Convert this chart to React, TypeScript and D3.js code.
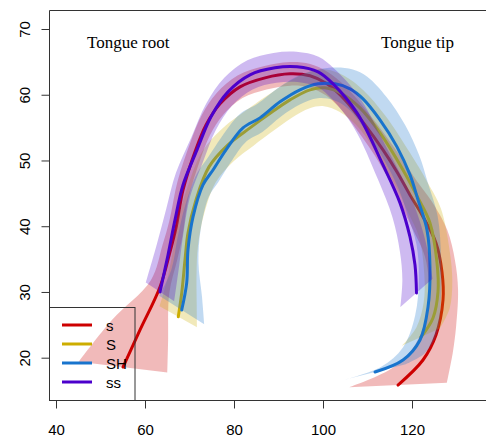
import React, { useRef, useEffect } from 'react';
import * as d3 from 'd3';

// tongue contours: [x, y, ci half-width along the radial direction]
const sCurve: number[][] = [
  [55.06, 18.58, 10], [58.88, 24.22, 6.5], [63.37, 30.76, 2.3], [65.62, 36.09, 2.0],
  [66.97, 39.74, 1.9], [68.54, 45.53, 1.8], [71.24, 51.31, 1.8], [73.71, 55.42, 1.8],
  [76.85, 58.61, 1.8], [81.35, 61.2, 1.8], [86.97, 62.57, 1.8], [92.58, 63.18, 1.8],
  [97.08, 62.88, 1.8], [100.9, 61.66, 1.8], [104.94, 59.22, 1.9], [109.44, 55.42, 2.0],
  [113.48, 51.61, 2.1], [116.63, 48.26, 2.3], [119.55, 44.76, 2.6], [122.25, 41.72, 3.0],
  [125.39, 37.46, 3.2], [126.74, 33.04, 3.4], [126.97, 28.78, 3.7], [125.39, 23.45, 4.7],
  [122.47, 19.65, 6.8], [116.85, 15.84, 11],
];
const SCurve: number[][] = [
  [67.48, 26.24, 4.5], [68.25, 29.85, 3.8], [68.99, 34.87, 3.2], [69.66, 38.98, 3.0],
  [71.46, 44.0, 2.8], [74.38, 49.03, 2.8], [78.65, 52.38, 2.8], [83.6, 54.96, 2.8],
  [87.64, 56.94, 2.8], [92.58, 59.22, 2.8], [97.08, 60.75, 2.8], [100.45, 61.05, 2.8],
  [104.27, 60.14, 2.8], [108.31, 58.0, 2.8], [112.81, 54.2, 2.9], [117.98, 48.57, 3.0],
  [121.35, 44.31, 3.2], [124.04, 40.5, 3.3], [125.62, 34.41, 3.4], [125.84, 30.0, 3.6],
  [124.72, 26.04, 4.0], [122.02, 23.15, 4.5],
];
const SHCurve: number[][] = [
  [68.25, 27.26, 5.5], [69.37, 31.37, 4.0], [69.66, 36.39, 3.0], [70.79, 41.42, 2.5],
  [73.03, 46.29, 2.2], [75.28, 48.55, 2.2], [78.2, 51.61, 2.2], [82.02, 54.96, 2.2],
  [85.84, 56.48, 2.2], [90.34, 58.92, 2.2], [94.83, 60.75, 2.2], [98.88, 61.66, 2.2],
  [102.7, 61.66, 2.5], [106.07, 60.9, 3.0], [108.99, 59.38, 3.5], [112.81, 56.18, 3.8],
  [116.63, 52.07, 3.8], [119.55, 47.81, 3.6], [121.35, 44.0, 3.4], [123.37, 39.44, 3.2],
  [124.04, 33.8, 3.0], [123.6, 27.72, 3.2], [121.8, 22.7, 4.0], [117.98, 19.65, 5.0],
  [111.69, 17.82, 7.0],
];
const ssCurve: number[][] = [
  [63.37, 30.0, 3.5], [65.17, 35.63, 3.0], [66.74, 40.96, 2.6], [68.54, 46.29, 2.4],
  [71.69, 51.61, 2.3], [74.83, 56.64, 2.3], [78.65, 60.44, 2.3], [83.6, 63.03, 2.3],
  [89.21, 64.09, 2.3], [94.16, 64.24, 2.3], [98.88, 63.48, 2.3], [102.25, 61.66, 2.3],
  [107.64, 57.24, 2.4], [113.48, 49.33, 2.5], [117.3, 43.55, 2.8], [119.55, 38.37, 3.2],
  [120.67, 34.11, 3.6], [121.01, 29.85, 4.2],
];

const seriesNames = ['s', 'S', 'SH', 'ss'];
const seriesColors = ['#CD0000', '#CDAD00', '#1874CD', '#4B00CC'];
const seriesData = [sCurve, SCurve, SHCurve, ssCurve];

const xTicks = [40, 60, 80, 100, 120];
const yTicks = [20, 30, 40, 50, 60, 70];

// polar origin used for the confidence bands
const origin = [96.4, 15.2];

const App = () => {
  const svgRef = useRef<SVGSVGElement>(null);

  useEffect(() => {
    document.body.style.margin = '0';
    const svg = d3.select(svgRef.current);
    svg.selectAll('*').remove();

    const x = d3.scaleLinear().domain([40, 120]).range([56, 412]);
    const y = d3.scaleLinear().domain([20, 70]).range([357.7, 29]);

    const left = 49.5;
    const top = 10.5;
    const bottom = 400.5;
    const right = 495;

    const radial = (d: number[], sign: number) => {
      const dx = d[0] - origin[0];
      const dy = d[1] - origin[1];
      const len = Math.sqrt(dx * dx + dy * dy);
      return [d[0] + (sign * d[2] * dx) / len, d[1] + (sign * d[2] * dy) / len];
    };

    const band = d3
      .area<number[]>()
      .x0((d) => x(radial(d, 1)[0]))
      .y0((d) => y(radial(d, 1)[1]))
      .x1((d) => x(radial(d, -1)[0]))
      .y1((d) => y(radial(d, -1)[1]))
      .curve(d3.curveCatmullRom);

    const line = d3
      .line<number[]>()
      .x((d) => x(d[0]))
      .y((d) => y(d[1]))
      .curve(d3.curveCatmullRom);

    const g = svg.append('g');
    seriesData.forEach((data, i) => {
      g.append('path')
        .attr('d', band(data))
        .attr('fill', seriesColors[i])
        .attr('fill-opacity', 0.27)
        .attr('stroke', 'none');
      g.append('path')
        .attr('d', line(data))
        .attr('fill', 'none')
        .attr('stroke', seriesColors[i])
        .attr('stroke-width', 3)
        .attr('stroke-linecap', 'round');
    });

    // plot box
    svg.append('path')
      .attr('d', `M${right},${top}H${left}V${bottom}H${right}`)
      .attr('fill', 'none')
      .attr('stroke', '#333')
      .attr('stroke-width', 1);

    const xAxis = svg.append('g')
      .attr('transform', `translate(0,${bottom})`)
      .call(d3.axisBottom(x).tickValues(xTicks).tickSize(8).tickSizeOuter(0));
    xAxis.select('.domain').remove();
    xAxis.selectAll('line').attr('stroke', '#333');
    xAxis.selectAll('text')
      .attr('y', 34.5)
      .attr('dy', 0)
      .attr('fill', '#000')
      .style('font', '15px "Liberation Sans", Arial, sans-serif');

    const yAxis = svg.append('g')
      .attr('transform', `translate(${left},0)`)
      .call(d3.axisLeft(y).tickValues(yTicks).tickSize(8).tickSizeOuter(0));
    yAxis.select('.domain').remove();
    yAxis.selectAll('line').attr('stroke', '#333');
    yAxis.selectAll('text')
      .attr('transform', 'rotate(-90)')
      .attr('x', 0)
      .attr('y', -19.5)
      .attr('dy', 0)
      .attr('text-anchor', 'middle')
      .attr('fill', '#000')
      .style('font', '15px "Liberation Sans", Arial, sans-serif');

    // annotations
    svg.append('text')
      .attr('x', 87)
      .attr('y', 48)
      .style('font', '17px "Liberation Serif", "Times New Roman", serif')
      .text('Tongue root');
    svg.append('text')
      .attr('x', 381)
      .attr('y', 48)
      .style('font', '17px "Liberation Serif", "Times New Roman", serif')
      .text('Tongue tip');

    // legend
    const legend = svg.append('g');
    legend.append('rect')
      .attr('x', left)
      .attr('y', 307.5)
      .attr('width', 85.5)
      .attr('height', bottom - 307.5)
      .attr('fill', 'none')
      .attr('stroke', '#333');
    seriesNames.forEach((name, i) => {
      const ly = 325 + i * 19;
      legend.append('line')
        .attr('x1', 62)
        .attr('x2', 92)
        .attr('y1', ly)
        .attr('y2', ly)
        .attr('stroke', seriesColors[i])
        .attr('stroke-width', 3);
      legend.append('text')
        .attr('x', 106)
        .attr('y', ly + 5.5)
        .style('font', '15px "Liberation Sans", Arial, sans-serif')
        .text(name);
    });

    return () => {
      svg.selectAll('*').remove();
    };
  }, []);

  return (
    <svg
      ref={svgRef}
      width={486}
      height={438}
      style={{ position: 'absolute', left: 0, top: 0, background: '#fff' }}
    />
  );
};

export default App;
